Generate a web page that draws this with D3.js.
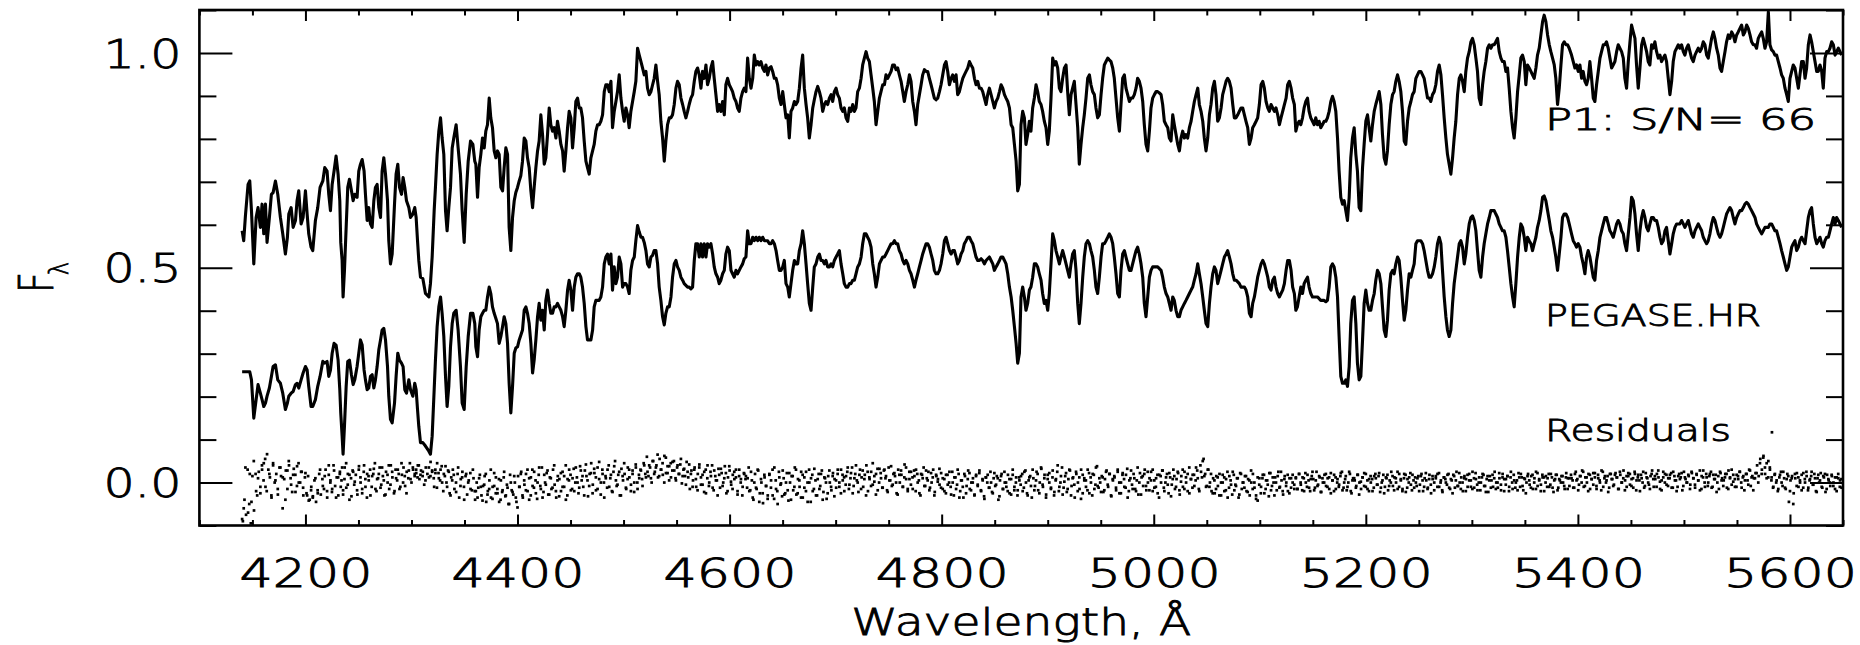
<!DOCTYPE html>
<html>
<head>
<meta charset="utf-8">
<script src="https://cdnjs.cloudflare.com/ajax/libs/d3/7.8.5/d3.min.js"></script>
<style>
  body { margin: 0; background: #fff; }
  svg text { font-family: "DejaVu Sans", sans-serif; font-weight: 200; fill: #000; stroke: #000; stroke-width: 0.9px; }
</style>
</head>
<body>
<div id="chart"></div>
<script>
// wavelength grid (Angstrom)
var wavelength = [
  4140.3,4141.8,4143.4,4145.9,4147.5,4149.1,4151.3,4153.5,4155.3,4157.5,
  4159.1,4160.7,4162.3,4163.8,4166.0,4167.9,4169.5,4171.7,4173.9,4176.4,
  4178.6,4181.1,4183.0,4184.3,4186.5,4188.4,4190.6,4192.1,4193.7,4195.9,
  4197.8,4200.0,4201.6,4203.1,4205.3,4206.9,4209.4,4211.6,4213.8,4216.4,
  4218.2,4220.4,4222.0,4223.6,4225.2,4227.0,4228.9,4230.8,4232.4,4233.3,
  4234.6,4235.5,4236.8,4238.4,4239.9,4241.5,4243.4,4245.0,4246.5,4248.7,
  4250.3,4251.9,4253.5,4255.3,4256.6,4258.2,4259.7,4261.3,4262.9,4264.5,
  4266.0,4267.6,4269.2,4270.8,4272.3,4273.9,4275.5,4277.4,4278.6,4280.2,
  4281.8,4284.0,4285.5,4287.1,4288.7,4290.6,4292.1,4293.7,4295.3,4297.5,
  4299.1,4301.3,4303.1,4304.4,4305.7,4306.9,4308.5,4310.7,4313.2,4316.4,
  4317.9,4319.5,4321.4,4322.6,4324.2,4325.8,4327.4,4328.9,4330.5,4332.1,
  4333.6,4335.2,4336.8,4338.4,4339.9,4342.1,4344.0,4346.2,4347.8,4349.7,
  4351.6,4353.5,4355.7,4357.9,4359.7,
  4360.7,4362.3,4363.8,4365.4,4367.0,4368.6,4370.1,4371.7,4373.3,4374.8,
  4376.4,4378.0,4379.6,4381.1,4382.7,4384.3,4385.9,4387.4,4389.0,4390.6,
  4392.1,4393.7,4395.3,4396.9,4398.4,4400.0,4401.6,4403.1,4404.7,4406.3,
  4407.9,4409.4,4411.0,4412.6,4414.2,4415.7,4417.3,4418.9,4420.4,4422.0,
  4423.6,4425.2,4426.7,4428.3,4429.9,4431.4,4433.0,4434.6,4436.2,4437.7,
  4439.3,4440.9,4442.5,4444.0,4445.6,4447.2,4448.7,4450.3,4451.9,4453.5,
  4455.0,4456.6,4458.2,4459.7,4461.3,4462.9,4464.5,4466.0,4467.6,4469.2,
  4470.8,4472.3,4473.9,4475.5,4477.0,4478.6,4480.2,4481.8,4483.3,4484.9,
  4486.5,4488.1,4489.6,4491.2,4492.8,4494.3,4495.9,4497.5,4499.1,4500.6,
  4502.2,4503.8,4505.3,4506.9,4508.5,4510.1,4511.6,4513.2,4514.8,4516.4,
  4517.9,4519.5,4521.1,4522.6,4524.2,4525.8,4527.4,4528.9,4530.5,4532.1,
  4533.6,4535.2,4536.8,4538.4,4539.9,4541.5,4543.1,4544.7,4546.2,4547.8,
  4549.4,4550.9,4552.5,4554.1,4555.7,4557.2,4558.8,4560.4,4561.9,4563.5,
  4565.1,4566.7,4568.2,4569.8,4571.4,4573.0,4574.5,4576.1,4577.7,4579.2,
  4580.8,4582.4,4584.0,4585.5,4587.1,4588.7,4590.2,4591.8,4593.4,4595.0,
  4596.5,4598.1,4599.7,4601.3,4602.8,4604.4,4606.0,4607.5,4609.1,4610.7,
  4612.3,4613.8,4615.4,
  4617.0,4618.6,4620.2,4621.8,4623.3,4624.9,4626.5,4628.0,4629.6,4631.2,
  4632.8,4634.3,4635.9,4637.5,4639.1,4640.6,4642.2,4643.8,4645.3,4646.9,
  4648.5,4650.1,4651.6,4653.2,4654.8,4656.3,4657.9,4659.5,4661.1,4662.6,
  4664.2,4665.8,4667.4,4668.9,4670.5,4672.1,4673.6,4675.2,4676.8,4678.4,
  4679.9,4681.5,4683.1,4684.7,4686.2,4687.8,4689.4,4690.9,4692.5,4694.1,
  4695.7,4697.2,4698.8,4700.4,4701.9,4703.5,4705.1,4706.7,4708.2,4709.8,
  4711.4,4713.0,4714.5,4716.1,4717.7,4719.2,4720.8,4722.4,4724.0,4725.5,
  4727.1,4728.7,4730.2,4731.8,4733.4,4735.0,4736.5,4738.1,4739.7,4741.3,
  4742.8,4744.4,4746.0,4747.5,4749.1,4750.7,4752.3,4753.8,4755.4,4757.0,
  4758.5,4760.1,4761.7,4763.3,4764.8,4766.4,4768.0,4769.6,4771.1,4772.7,
  4774.3,4775.8,4777.4,4779.0,4780.6,4782.1,4783.7,4785.3,4786.8,4788.4,
  4790.0,4791.6,4793.1,4794.7,4796.3,4797.9,4799.4,4801.0,4802.6,4804.1,
  4805.7,4807.3,4808.9,4810.4,4812.0,4813.6,4815.1,4816.7,4818.3,4819.9,
  4821.4,4823.0,4824.6,4826.2,4827.7,4829.3,4830.9,4832.4,4834.0,4835.6,
  4837.2,4838.7,4840.3,4841.9,4843.4,4845.0,4846.6,4848.2,4849.7,4851.3,
  4852.9,4854.5,4856.0,4857.6,4859.2,4860.7,4862.3,4863.9,4865.5,4867.0,
  4868.6,4870.2,4871.7,4873.3,
  4874.8,4876.4,4878.0,4879.5,4881.1,4882.7,4884.2,4885.8,4887.4,4889.0,
  4890.5,4892.1,4893.7,4895.2,4896.8,4898.4,4900.0,4901.5,4903.1,4904.7,
  4906.3,4907.8,4909.4,4911.0,4912.5,4914.1,4915.7,4917.3,4918.8,4920.4,
  4922.0,4923.5,4925.1,4926.7,4928.3,4929.8,4931.4,4933.0,4934.5,4936.1,
  4937.7,4939.3,4940.8,4942.4,4944.0,4945.5,4947.1,4948.7,4950.3,4951.8,
  4953.4,4955.0,4956.6,4958.1,4959.7,4961.3,4962.8,4964.4,4966.0,4967.6,
  4969.1,4970.7,4972.3,4973.8,4975.4,4977.0,4978.6,4980.1,4981.7,4983.3,
  4984.8,4986.4,4988.0,4989.6,4991.1,4992.7,4994.3,4995.9,4997.4,4999.0,
  5000.6,5002.2,5003.7,5005.3,5006.9,5008.4,5010.0,5011.6,5013.2,5014.7,
  5016.3,5017.9,5019.4,5021.0,5022.6,5024.2,5025.7,5027.3,5028.9,5030.4,
  5032.0,5033.6,5035.2,5036.7,5038.3,5039.9,5041.5,5043.0,5044.6,5046.2,
  5047.7,5049.3,5050.9,5052.5,5054.0,5055.6,5057.2,5058.7,5060.3,5061.9,
  5063.5,5065.0,5066.6,5068.2,5069.7,5071.3,5072.9,5074.5,5076.0,5077.6,
  5079.2,5080.7,5082.3,5083.9,5085.5,5087.0,5088.6,5090.2,5091.8,5093.3,
  5094.9,5096.5,5098.0,5099.6,5101.2,5102.8,5104.3,5105.9,5107.5,5109.0,
  5110.6,5112.2,5113.8,5115.3,5116.9,5118.5,5120.0,5121.6,5123.2,5124.8,
  5126.3,5127.9,5129.5,5131.0,5132.6,
  5134.0,5135.5,5137.1,5138.7,5140.3,5141.8,5143.4,5145.0,5146.5,5148.1,
  5149.7,5151.3,5152.8,5154.4,5156.0,5157.5,5159.1,5160.7,5162.3,5163.8,
  5165.4,5167.0,5168.6,5170.1,5171.7,5173.3,5174.8,5176.4,5178.0,5179.6,
  5181.1,5182.7,5184.3,5185.8,5187.4,5189.0,5190.6,5192.1,5193.7,5195.3,
  5196.9,5198.4,5200.0,5201.6,5203.1,5204.7,5206.3,5207.9,5209.4,5211.0,
  5212.6,5214.2,5215.7,5217.3,5218.9,5220.4,5222.0,5223.6,5225.2,5226.7,
  5228.3,5229.9,5231.4,5233.0,5234.6,5236.2,5237.7,5239.3,5240.9,5242.5,
  5244.0,5245.6,5247.2,5248.7,5250.3,5251.9,5253.5,5255.0,5256.6,5258.2,
  5259.7,5261.3,5262.9,5264.5,5266.0,5267.6,5269.2,5270.8,5272.3,5273.9,
  5275.5,5277.0,5278.6,5280.2,5281.8,5283.3,5284.9,5286.5,5288.1,5289.6,
  5291.2,5292.8,5294.3,5295.9,5297.5,5299.1,5300.6,5302.2,5303.8,5305.3,
  5306.9,5308.5,5310.1,5311.6,5313.2,5314.8,5316.4,5317.9,5319.5,5321.1,
  5322.6,5324.2,5325.8,5327.4,5328.9,5330.5,5332.1,5333.6,5335.2,5336.8,
  5338.4,5339.9,5341.5,5343.1,5344.7,5346.2,5347.8,5349.4,5350.9,5352.5,
  5354.1,5355.7,5357.2,5358.8,5360.4,5361.9,5363.5,5365.1,5366.7,5368.2,
  5369.8,5371.4,5373.0,5374.5,5376.1,5377.7,5379.2,5380.8,5382.4,5384.0,
  5385.5,5387.1,5388.7,5390.3,5391.8,
  5394.0,5395.6,5397.2,5398.7,5400.3,5401.9,5403.5,5405.0,5406.6,5408.2,
  5409.7,5411.3,5412.9,5414.5,5416.0,5417.6,5419.2,5420.8,5422.3,5423.9,
  5425.5,5427.0,5428.6,5430.2,5431.8,5433.3,5434.9,5436.5,5438.0,5439.6,
  5441.2,5442.8,5444.3,5445.9,5447.5,5449.1,5450.6,5452.2,5453.8,5455.3,
  5456.9,5458.5,5460.1,5461.6,5463.2,5464.8,5466.3,5467.9,5469.5,5471.1,
  5472.6,5474.2,5475.8,5477.4,5478.9,5480.5,5482.1,5483.6,5485.2,5486.8,
  5488.4,5489.9,5491.5,5493.1,5494.6,5496.2,5497.8,5499.4,5500.9,5502.5,
  5504.1,5505.7,5507.2,5508.8,5510.4,5511.9,5513.5,5515.1,5516.7,5518.2,
  5519.8,5521.4,5522.9,5524.5,5526.1,5527.7,5529.2,5530.8,5532.4,5534.0,
  5535.5,5537.1,5538.7,5540.2,5541.8,5543.4,5545.0,5546.5,5548.1,5549.7,
  5551.2,5552.8,5554.4,5556.0,5557.5,5559.1,5560.7,5562.3,5563.8,5565.4,
  5567.0,5568.5,5570.1,5571.7,5573.3,5574.8,5576.4,5578.0,5579.6,5581.1,
  5582.7,5584.3,5585.8,5587.4,5589.0,5590.6,5592.1,5593.7,5595.3,5596.9,
  5598.4,5600.0,5601.6,5603.1,5604.7,5606.3,5607.9,5609.4,5611.0,5612.6,
  5614.2,5615.7,5617.3,5618.9,5620.4,5622.0,5623.6,5625.2,5626.7,5628.3,
  5629.9,5631.4,5633.0,5634.6,5636.2,5637.7,5639.3,5640.9,5642.5,5644.0,
  5645.6,5647.2,5648.7
];

// observed spectrum P1 (upper curve)
var fluxP1 = [
  0.586,0.563,0.621,0.694,0.702,0.633,0.509,0.617,0.640,0.594,
  0.648,0.579,0.648,0.559,0.617,0.671,0.675,0.702,0.671,0.617,
  0.579,0.532,0.571,0.625,0.640,0.594,0.610,0.656,0.679,0.602,
  0.617,0.679,0.625,0.579,0.548,0.540,0.610,0.640,0.687,0.702,
  0.733,0.725,0.671,0.633,0.694,0.725,0.760,0.718,0.656,0.559,
  0.517,0.432,0.494,0.594,0.687,0.706,0.679,0.656,0.671,0.664,
  0.725,0.741,0.752,0.725,0.671,0.610,0.640,0.602,0.594,0.656,
  0.687,0.694,0.640,0.617,0.725,0.756,0.718,0.656,0.563,0.509,
  0.532,0.648,0.718,0.741,0.687,0.671,0.710,0.687,0.656,0.640,
  0.617,0.625,0.640,0.617,0.563,0.517,0.478,0.475,0.440,0.432,
  0.463,0.525,0.633,0.687,0.764,0.818,0.849,0.802,0.764,0.633,
  0.586,0.640,0.687,0.779,0.802,0.833,0.779,0.718,0.633,0.559,
  0.671,0.748,0.795,0.787,0.748,
  0.741,0.664,0.733,0.764,0.802,0.779,0.818,0.833,0.895,0.849,
  0.826,0.772,0.756,0.772,0.764,0.687,0.679,0.733,0.779,0.764,
  0.594,0.540,0.617,0.656,0.675,0.687,0.702,0.714,0.748,0.802,
  0.795,0.756,0.733,0.679,0.640,0.687,0.733,0.772,0.795,0.856,
  0.810,0.741,0.756,0.810,0.872,0.833,0.818,0.826,0.802,0.841,
  0.818,0.787,0.772,0.725,0.772,0.826,0.864,0.849,0.779,0.826,
  0.887,0.895,0.872,0.872,0.849,0.795,0.748,0.733,0.718,0.756,
  0.772,0.787,0.818,0.833,0.833,0.841,0.856,0.910,0.926,0.926,
  0.910,0.934,0.826,0.864,0.887,0.910,0.949,0.895,0.864,0.841,
  0.872,0.856,0.826,0.864,0.887,0.910,0.934,1.011,0.995,0.980,
  0.965,0.949,0.957,0.918,0.903,0.910,0.926,0.941,0.972,0.934,
  0.903,0.841,0.802,0.748,0.795,0.833,0.849,0.849,0.856,0.880,
  0.918,0.934,0.926,0.895,0.880,0.864,0.849,0.864,0.880,0.895,
  0.903,0.934,0.957,0.965,0.949,0.918,0.957,0.941,0.972,0.926,
  0.941,0.965,0.980,0.941,0.903,0.864,0.880,0.864,0.887,0.856,
  0.926,0.941,0.926,0.918,0.910,0.895,0.887,0.872,0.864,0.895,
  0.910,0.918,0.910,
  0.988,0.941,0.918,0.941,0.995,0.972,0.980,0.972,0.980,0.965,
  0.957,0.972,0.949,0.965,0.968,0.957,0.941,0.941,0.926,0.895,
  0.880,0.910,0.880,0.849,0.856,0.802,0.864,0.872,0.887,0.880,
  0.887,0.918,0.965,0.995,0.918,0.880,0.849,0.802,0.833,0.872,
  0.891,0.910,0.922,0.910,0.895,0.864,0.880,0.887,0.880,0.895,
  0.903,0.887,0.910,0.918,0.903,0.895,0.872,0.864,0.872,0.849,
  0.841,0.872,0.864,0.880,0.864,0.872,0.910,0.918,0.941,0.972,
  0.988,1.003,0.988,0.980,0.949,0.918,0.887,0.833,0.864,0.895,
  0.910,0.926,0.926,0.949,0.941,0.949,0.957,0.972,0.972,0.961,
  0.965,0.949,0.934,0.910,0.887,0.910,0.926,0.949,0.934,0.887,
  0.864,0.833,0.880,0.903,0.926,0.949,0.961,0.957,0.957,0.941,
  0.926,0.910,0.895,0.891,0.895,0.910,0.926,0.949,0.972,0.980,
  0.957,0.926,0.941,0.949,0.934,0.949,0.903,0.910,0.926,0.941,
  0.949,0.957,0.965,0.980,0.972,0.965,0.941,0.926,0.934,0.918,
  0.918,0.910,0.895,0.880,0.903,0.918,0.903,0.887,0.872,0.887,
  0.895,0.910,0.926,0.918,0.903,0.895,0.887,0.872,0.833,0.826,
  0.787,0.748,0.679,0.694,
  0.833,0.864,0.849,0.787,0.810,0.841,0.818,0.872,0.895,0.926,
  0.910,0.887,0.880,0.864,0.841,0.826,0.787,0.818,0.895,0.988,
  0.972,0.980,0.965,0.918,0.910,0.941,0.965,0.972,0.910,0.856,
  0.903,0.918,0.934,0.880,0.826,0.741,0.787,0.826,0.856,0.895,
  0.941,0.949,0.926,0.910,0.903,0.872,0.849,0.856,0.903,0.941,
  0.972,0.980,0.988,0.984,0.980,0.965,0.941,0.895,0.849,0.818,
  0.880,0.941,0.949,0.918,0.903,0.887,0.895,0.895,0.903,0.918,
  0.941,0.934,0.918,0.887,0.833,0.787,0.772,0.818,0.872,0.895,
  0.903,0.910,0.910,0.907,0.903,0.880,0.841,0.833,0.826,0.802,
  0.795,0.856,0.833,0.810,0.787,0.772,0.802,0.818,0.802,0.810,
  0.802,0.826,0.841,0.864,0.887,0.903,0.918,0.880,0.864,0.841,
  0.802,0.772,0.802,0.856,0.880,0.918,0.934,0.903,0.841,0.849,
  0.872,0.903,0.918,0.934,0.941,0.934,0.918,0.880,0.849,0.849,
  0.856,0.864,0.872,0.872,0.856,0.841,0.826,0.787,0.802,0.826,
  0.833,0.841,0.849,0.880,0.926,0.934,0.918,0.887,0.872,0.864,
  0.880,0.872,0.864,0.872,0.856,0.833,0.849,0.864,0.880,0.895,
  0.926,0.934,0.918,0.895,0.880,
  0.818,0.833,0.841,0.833,0.849,0.872,0.887,0.895,0.864,0.849,
  0.841,0.833,0.849,0.833,0.841,0.826,0.833,0.841,0.841,0.849,
  0.864,0.887,0.899,0.887,0.864,0.802,0.725,0.664,0.648,0.656,
  0.633,0.610,0.664,0.756,0.802,0.826,0.764,0.725,0.640,0.633,
  0.733,0.787,0.841,0.856,0.826,0.795,0.833,0.864,0.880,0.895,
  0.910,0.880,0.810,0.756,0.741,0.772,0.833,0.880,0.903,0.910,
  0.934,0.949,0.934,0.910,0.864,0.795,0.787,0.841,0.872,0.887,
  0.903,0.910,0.941,0.949,0.957,0.957,0.949,0.941,0.918,0.895,
  0.895,0.887,0.903,0.910,0.926,0.957,0.972,0.949,0.903,0.849,
  0.802,0.764,0.741,0.718,0.756,0.802,0.841,0.903,0.941,0.949,
  0.934,0.910,0.957,0.988,1.003,1.026,1.034,1.019,0.988,0.957,
  0.895,0.880,0.926,0.957,0.980,1.011,1.019,1.011,1.019,1.019,
  1.026,1.034,1.003,0.988,0.980,0.980,0.957,0.965,0.918,0.864,
  0.826,0.802,0.849,0.910,0.949,0.988,0.995,0.980,0.926,0.972,
  0.965,0.957,0.949,0.941,0.965,0.995,1.011,1.042,1.073,1.088,
  1.073,1.042,1.019,1.003,0.988,0.972,0.941,0.880,0.918,0.972,
  1.019,1.026,1.019,1.019,1.011,
  0.995,0.980,0.965,0.972,0.957,0.972,0.941,0.957,0.934,0.926,
  0.941,0.980,0.941,0.895,0.887,0.926,0.957,0.988,1.003,1.019,
  1.019,1.026,1.011,0.988,0.965,0.972,0.980,1.003,1.019,1.011,
  1.003,0.988,0.941,0.918,0.980,1.026,1.065,1.049,1.034,0.972,
  0.918,0.965,1.019,1.034,1.019,1.003,0.980,0.972,1.019,1.011,
  1.026,1.003,0.988,0.995,0.980,0.988,0.995,0.980,0.941,0.903,
  0.934,0.980,1.003,1.011,1.019,1.011,1.019,1.003,0.995,1.011,
  1.019,1.003,0.988,0.980,0.995,1.003,1.011,1.003,1.011,1.026,
  1.019,0.995,0.988,1.011,1.034,1.049,1.034,1.011,0.995,0.965,
  0.957,0.980,1.003,1.026,1.042,1.034,1.049,1.042,1.026,1.042,
  1.049,1.057,1.065,1.042,1.049,1.065,1.057,1.042,1.026,1.019,
  1.019,1.011,1.034,1.042,1.049,1.034,1.011,1.026,1.096,1.019,
  1.007,1.003,0.995,0.995,0.980,0.965,0.949,0.941,0.918,0.903,
  0.887,0.941,0.957,0.972,0.965,0.941,0.918,0.949,0.980,0.980,
  0.941,0.965,1.019,1.042,1.026,1.003,0.980,0.957,0.957,0.972,
  0.957,0.918,0.988,1.003,1.003,1.011,1.026,1.019,0.995,1.003,
  1.011,1.003,0.995
];

// PEGASE.HR model spectrum (lower curve)
var fluxPegase = [
  0.258,0.258,0.258,0.258,0.258,0.239,0.150,0.193,0.228,0.208,
  0.193,0.177,0.185,0.201,0.220,0.247,0.270,0.274,0.239,0.231,
  0.208,0.170,0.185,0.201,0.208,0.212,0.228,0.231,0.220,0.239,
  0.255,0.270,0.262,0.224,0.177,0.177,0.193,0.224,0.247,0.282,
  0.278,0.282,0.247,0.262,0.301,0.324,0.320,0.285,0.216,0.162,
  0.108,0.066,0.131,0.224,0.282,0.285,0.251,0.228,0.239,0.270,
  0.301,0.332,0.320,0.262,0.239,0.216,0.220,0.247,0.251,0.220,
  0.239,0.270,0.309,0.332,0.355,0.359,0.332,0.270,0.201,0.147,
  0.139,0.185,0.247,0.301,0.285,0.278,0.270,0.216,0.208,0.239,
  0.216,0.201,0.231,0.216,0.170,0.131,0.093,0.093,0.085,0.073,
  0.066,0.108,0.216,0.285,0.363,0.409,0.432,0.394,0.340,0.247,
  0.177,0.224,0.316,0.370,0.394,0.401,0.355,0.270,0.185,0.170,
  0.270,0.340,0.394,0.394,0.370,
  0.316,0.293,0.355,0.386,0.394,0.401,0.401,0.432,0.455,0.440,
  0.409,0.394,0.382,0.370,0.324,0.340,0.363,0.386,0.370,0.324,
  0.231,0.162,0.224,0.301,0.313,0.316,0.332,0.343,0.355,0.401,
  0.409,0.394,0.370,0.324,0.255,0.285,0.332,0.386,0.417,0.378,
  0.401,0.355,0.424,0.448,0.417,0.394,0.394,0.409,0.409,0.417,
  0.409,0.401,0.386,0.363,0.401,0.448,0.471,0.448,0.401,0.455,
  0.478,0.486,0.486,0.478,0.455,0.417,0.363,0.332,0.332,0.332,
  0.355,0.409,0.424,0.424,0.424,0.432,0.455,0.509,0.525,0.532,
  0.509,0.532,0.448,0.502,0.463,0.478,0.525,0.509,0.455,0.463,
  0.463,0.455,0.440,0.494,0.517,0.525,0.563,0.598,0.583,0.571,
  0.571,0.559,0.540,0.509,0.502,0.525,0.529,0.540,0.540,0.509,
  0.455,0.424,0.386,0.367,0.394,0.409,0.409,0.432,0.478,0.509,
  0.517,0.502,0.494,0.478,0.471,0.463,0.459,0.455,0.455,0.451,
  0.455,0.517,0.556,0.556,0.525,0.556,0.525,0.556,0.525,0.556,
  0.548,0.556,0.532,0.502,0.486,0.478,0.463,0.471,0.486,0.494,
  0.532,0.548,0.540,0.494,0.486,0.478,0.494,0.486,0.494,0.502,
  0.509,0.521,0.525,
  0.586,0.556,0.556,0.571,0.563,0.571,0.563,0.571,0.563,0.571,
  0.563,0.563,0.563,0.556,0.556,0.563,0.556,0.540,0.517,0.494,
  0.494,0.502,0.517,0.463,0.455,0.432,0.463,0.494,0.517,0.509,
  0.509,0.540,0.556,0.586,0.556,0.509,0.463,0.417,0.401,0.455,
  0.502,0.509,0.525,0.532,0.517,0.517,0.509,0.517,0.502,0.502,
  0.509,0.502,0.517,0.525,0.532,0.540,0.509,0.486,0.463,0.455,
  0.455,0.463,0.463,0.471,0.471,0.486,0.502,0.509,0.525,0.556,
  0.579,0.579,0.571,0.563,0.548,0.509,0.486,0.455,0.478,0.509,
  0.517,0.525,0.525,0.532,0.540,0.548,0.556,0.556,0.563,0.556,
  0.556,0.540,0.532,0.517,0.509,0.517,0.509,0.494,0.486,0.471,
  0.455,0.471,0.486,0.502,0.517,0.532,0.544,0.556,0.556,0.548,
  0.532,0.517,0.494,0.486,0.486,0.494,0.509,0.532,0.563,0.571,
  0.556,0.540,0.532,0.540,0.540,0.525,0.509,0.517,0.532,0.540,
  0.556,0.563,0.571,0.571,0.563,0.556,0.540,0.525,0.517,0.517,
  0.521,0.517,0.509,0.517,0.521,0.525,0.517,0.509,0.494,0.502,
  0.509,0.517,0.525,0.525,0.517,0.509,0.486,0.455,0.432,0.401,
  0.363,0.324,0.278,0.301,
  0.432,0.455,0.432,0.401,0.417,0.448,0.455,0.478,0.509,0.509,
  0.502,0.486,0.471,0.440,0.417,0.424,0.401,0.440,0.509,0.579,
  0.563,0.540,0.525,0.509,0.525,0.540,0.525,0.509,0.494,0.478,
  0.509,0.532,0.540,0.494,0.417,0.370,0.417,0.478,0.525,0.556,
  0.563,0.556,0.540,0.525,0.494,0.455,0.440,0.478,0.525,0.556,
  0.556,0.563,0.571,0.579,0.571,0.556,0.525,0.486,0.440,0.432,
  0.494,0.532,0.540,0.525,0.509,0.494,0.494,0.509,0.525,0.540,
  0.548,0.532,0.509,0.478,0.417,0.386,0.432,0.478,0.494,0.502,
  0.502,0.502,0.502,0.498,0.494,0.478,0.455,0.440,0.432,0.417,
  0.401,0.432,0.424,0.401,0.386,0.386,0.401,0.409,0.417,0.424,
  0.432,0.440,0.448,0.455,0.471,0.486,0.509,0.486,0.463,0.432,
  0.401,0.370,0.363,0.417,0.455,0.486,0.502,0.494,0.463,0.478,
  0.494,0.509,0.525,0.532,0.540,0.525,0.509,0.486,0.471,0.471,
  0.467,0.463,0.455,0.455,0.455,0.448,0.432,0.394,0.386,0.417,
  0.432,0.455,0.478,0.494,0.509,0.517,0.509,0.494,0.478,0.455,
  0.448,0.471,0.478,0.455,0.440,0.432,0.440,0.448,0.463,0.494,
  0.517,0.517,0.494,0.455,0.440,
  0.401,0.409,0.432,0.455,0.440,0.463,0.471,0.478,0.455,0.440,
  0.432,0.432,0.432,0.432,0.428,0.424,0.424,0.424,0.421,0.424,
  0.455,0.502,0.509,0.502,0.478,0.432,0.340,0.247,0.231,0.231,
  0.239,0.224,0.270,0.370,0.424,0.432,0.370,0.278,0.239,0.247,
  0.332,0.417,0.448,0.417,0.401,0.401,0.424,0.440,0.471,0.494,
  0.486,0.463,0.409,0.355,0.340,0.378,0.448,0.486,0.494,0.486,
  0.509,0.525,0.517,0.478,0.424,0.378,0.401,0.448,0.486,0.478,
  0.494,0.509,0.556,0.563,0.563,0.563,0.556,0.540,0.517,0.494,
  0.478,0.478,0.486,0.502,0.525,0.556,0.571,0.556,0.494,0.432,
  0.386,0.355,0.340,0.355,0.417,0.463,0.494,0.525,0.556,0.563,
  0.548,0.509,0.532,0.571,0.602,0.617,0.621,0.610,0.586,0.540,
  0.494,0.478,0.525,0.556,0.579,0.602,0.617,0.633,0.633,0.633,
  0.625,0.617,0.602,0.594,0.586,0.586,0.571,0.540,0.502,0.463,
  0.432,0.409,0.463,0.525,0.571,0.602,0.594,0.571,0.540,0.571,
  0.563,0.556,0.540,0.556,0.571,0.594,0.610,0.633,0.664,0.667,
  0.656,0.633,0.610,0.586,0.571,0.548,0.525,0.494,0.532,0.571,
  0.617,0.625,0.625,0.617,0.602,
  0.579,0.563,0.556,0.548,0.556,0.548,0.525,0.509,0.486,0.525,
  0.540,0.525,0.502,0.478,0.471,0.517,0.540,0.571,0.586,0.602,
  0.617,0.617,0.602,0.586,0.579,0.571,0.586,0.602,0.610,0.602,
  0.586,0.579,0.556,0.540,0.579,0.617,0.664,0.656,0.625,0.579,
  0.540,0.586,0.617,0.633,0.617,0.594,0.586,0.602,0.617,0.617,
  0.610,0.610,0.594,0.571,0.556,0.563,0.586,0.594,0.563,0.532,
  0.556,0.579,0.594,0.602,0.602,0.602,0.610,0.602,0.594,0.602,
  0.610,0.594,0.579,0.571,0.586,0.594,0.602,0.594,0.586,0.571,
  0.563,0.556,0.563,0.579,0.602,0.617,0.610,0.594,0.579,0.571,
  0.579,0.594,0.610,0.625,0.633,0.640,0.633,0.617,0.602,0.617,
  0.625,0.633,0.633,0.640,0.648,0.652,0.648,0.640,0.633,0.625,
  0.617,0.602,0.594,0.586,0.579,0.586,0.594,0.594,0.594,0.602,
  0.602,0.594,0.586,0.586,0.571,0.556,0.540,0.525,0.509,0.494,
  0.502,0.525,0.548,0.556,0.563,0.540,0.548,0.563,0.571,0.563,
  0.556,0.586,0.617,0.633,0.640,0.602,0.571,0.556,0.563,0.571,
  0.556,0.548,0.563,0.571,0.571,0.586,0.602,0.617,0.602,0.617,
  0.610,0.602,0.594
];

// residuals on the same grid as the spectra
var residuals = [
  -0.085,-0.06,0.035,-0.07,0.02,-0.045,0.05,-0.02,
  0.01,-0.025,0.03,0.045,-0.01,0.066,0.02,-0.03,0.04,0.005,-0.015,0.035,0.012,-0.04,0.028,0.05,-0.005,0.018,-0.022,0.038,0.0,0.025,
  -0.012,0.022,-0.03,-0.042,-0.018,-0.035,0.01,-0.025,0.03,-0.008,0.015,-0.02,0.04,0.005,-0.015,0.028,-0.035,0.012,0.02,-0.01,
  0.035,-0.028,0.008,0.045,-0.005,0.018,-0.032,0.025,0.002,-0.018,0.03,0.012,-0.025,0.04,-0.01,0.02,0.005,-0.03,0.015,0.032,-0.015,0.008,
  0.02,-0.012,0.035,0.005,-0.028,0.018,0.04,-0.005,0.025,-0.02,0.01,0.03,-0.015,0.045,0.0,0.015,-0.025,0.028,0.008,0.035,
  0.02,0.03,0.012,0.04,0.018,0.025,0.005,0.035,0.015,0.028,-0.01,0.022,0.045,0.01,0.03,0.0,0.02,0.038,
  -0.01,0.025,-0.03,0.005,0.018,-0.022,0.035,-0.008,0.012,-0.04,0.02,0.0,-0.015,0.03,-0.02,
  -0.02,-0.035,0.01,-0.01,-0.042,-0.005,0.02,-0.028,-0.015,0.03,-0.038,-0.008,0.012,-0.025,-0.045,0.005,-0.018,0.025,-0.03,-0.012,-0.05,0.0,-0.022,0.015,-0.035,
  -0.058,-0.01,0.02,-0.03,0.005,-0.018,0.03,-0.04,0.012,-0.008,0.025,-0.025,0.0,0.035,-0.015,-0.035,0.018,-0.005,0.028,-0.028,0.01,-0.012,0.04,-0.02,0.005,-0.032,0.022,-0.01,0.015,-0.04,0.008,0.03,-0.018,
  0.01,-0.02,0.035,0.0,-0.012,0.028,0.015,-0.03,0.042,0.005,-0.008,0.022,-0.025,0.032,0.012,-0.015,0.048,0.0,0.02,-0.035,0.01,0.03,-0.01,0.018,-0.022,
  0.038,0.005,-0.005,0.025,-0.03,0.015,0.045,-0.012,0.008,0.03,-0.02,0.02,0.0,0.035,-0.015,0.01,0.028,-0.008,0.04,0.012,
  0.025,0.04,0.01,0.05,0.02,0.035,0.065,0.015,0.03,0.045,0.0,0.058,0.022,0.038,0.012,0.048,0.028,0.005,0.04,0.02,0.055,0.015,0.032,-0.005,0.025,0.042,
  0.02,-0.01,0.03,0.008,-0.018,0.035,0.012,-0.005,0.025,-0.025,0.04,0.0,0.015,-0.012,0.028,0.005,-0.03,0.018,0.032,-0.008,0.01,0.022,-0.02,0.038,0.002,-0.015,0.025,0.012,-0.028,0.03,0.008,-0.01,0.02,0.015,
  0.01,-0.02,0.025,-0.035,0.0,-0.012,0.03,-0.045,0.008,-0.025,0.018,-0.008,-0.038,0.02,0.005,-0.03,0.035,-0.015,-0.05,0.012,-0.002,0.028,-0.028,0.0,-0.018,0.022,-0.04,
  0.015,-0.01,0.03,-0.025,0.005,-0.035,0.018,-0.012,0.025,-0.045,0.0,0.01,-0.02,0.032,-0.03,0.008,-0.015,0.02,-0.04,0.012,0.0,-0.025,0.028,-0.01,0.015,-0.032,0.005,
  0.02,-0.01,0.03,0.005,-0.02,0.015,0.035,-0.005,0.022,-0.025,0.01,0.04,0.0,0.018,-0.015,0.028,0.008,-0.03,0.025,0.012,-0.008,0.045,0.002,0.02,-0.018,0.032,0.01,-0.012,0.03,0.015,-0.022,0.005,
  0.038,-0.005,0.022,0.0,-0.028,0.018,0.028,-0.01,0.012,0.035,-0.02,0.008,0.025,-0.015,0.015,0.03,0.0,-0.025,0.02,0.01,-0.008,0.028,0.005,-0.018,0.022,0.012,-0.03,0.018,0.002,0.032,-0.012,
  0.01,-0.02,0.018,-0.005,0.025,-0.028,0.0,0.012,-0.015,0.03,-0.035,0.005,-0.01,0.02,-0.025,0.008,0.022,-0.018,0.0,-0.03,0.015,-0.008,0.028,-0.02,
  0.005,-0.038,0.012,0.018,-0.012,0.0,-0.025,0.022,-0.005,0.01,-0.032,0.015,-0.015,0.025,0.0,-0.02,0.008,-0.028,0.018,-0.01,0.012,-0.018,0.005,
  0.015,-0.02,0.025,0.0,-0.03,0.012,-0.008,0.03,-0.018,0.005,0.02,-0.025,0.035,-0.005,0.01,-0.035,0.018,0.0,-0.012,0.028,-0.022,0.008,0.04,-0.01,0.015,
  -0.028,0.002,0.022,-0.015,0.03,-0.03,0.01,-0.005,0.025,-0.02,0.012,-0.038,0.018,0.005,-0.01,0.03,-0.025,0.0,0.02,-0.015,0.035,-0.008,0.01,-0.022,
  0.012,-0.018,0.025,-0.005,0.02,-0.03,0.008,0.015,-0.012,0.03,-0.025,0.0,0.022,-0.01,0.018,-0.035,0.005,0.028,-0.015,0.01,-0.02,0.035,0.0,-0.028,0.015,0.02,-0.008,0.025,-0.018,0.005,0.03,-0.012,
  0.01,-0.025,0.018,0.0,0.028,-0.02,0.012,-0.005,0.022,-0.032,0.008,0.015,-0.01,0.025,-0.018,0.002,0.03,-0.015,0.012,0.02,-0.025,0.008,0.018,-0.008,0.035,0.01,-0.02,0.025,0.05,0.015,-0.01,0.03,
  -0.01,0.02,-0.025,0.005,-0.015,0.012,-0.03,0.0,0.018,-0.02,0.008,-0.035,0.015,-0.005,0.025,-0.018,-0.008,0.01,-0.028,0.02,0.0,-0.012,0.015,-0.022,0.005,0.028,
  -0.015,0.0,-0.03,-0.042,0.01,-0.01,0.018,-0.025,0.005,-0.005,0.022,-0.018,0.012,-0.03,0.0,0.015,-0.012,0.025,-0.02,0.008,-0.008,0.018,-0.025,0.01,0.0,-0.015,
  0.01,-0.015,0.02,-0.005,0.012,-0.02,0.0,0.018,-0.012,0.008,0.025,-0.018,0.005,-0.008,0.015,-0.022,0.01,0.0,0.02,-0.01,0.012,-0.025,0.005,0.018,-0.015,0.008,-0.005,0.022,-0.018,0.0,
  0.015,-0.01,0.025,-0.02,0.005,0.01,-0.012,0.018,-0.028,0.002,0.012,-0.008,0.02,-0.015,0.008,0.0,-0.02,0.015,0.01,-0.005,0.022,-0.012,0.005,-0.025,0.012,0.018,-0.008,0.0,0.015,-0.018,
  0.01,0.025,-0.01,0.005,-0.015,0.02,-0.022,0.008,0.012,-0.005,0.018,-0.012,0.0,0.01,-0.02,0.015,0.005,-0.01,0.022,-0.015,0.008,
  -0.005,0.015,-0.018,0.01,0.02,-0.01,0.005,-0.022,0.012,0.0,0.018,-0.012,0.008,-0.025,0.015,0.005,-0.008,0.022,-0.015,0.0,0.01,-0.02,0.018,0.005,-0.01,0.025,-0.012,0.008,-0.018,0.012,
  0.0,0.02,-0.008,-0.022,0.015,0.005,-0.012,0.018,0.01,-0.015,0.0,0.022,-0.005,0.012,-0.02,0.008,0.015,-0.01,0.025,-0.015,0.005,0.0,-0.018,0.012,0.02,-0.008,0.01,-0.025,0.015,0.005,
  -0.012,0.018,0.0,-0.015,0.022,0.008,-0.005,0.012,-0.02,0.015,0.01,-0.01,0.02,-0.012,0.005,0.018,-0.018,0.008,0.0,0.015,-0.008,0.012,-0.015,0.01,
  0.01,-0.012,0.02,0.005,-0.018,0.015,0.0,0.025,-0.008,0.012,-0.02,0.018,0.008,-0.005,0.022,-0.015,0.01,0.0,0.028,-0.01,
  0.015,0.005,-0.022,0.02,0.008,-0.008,0.018,0.012,-0.015,0.025,0.0,0.01,-0.018,0.015,0.022,-0.005,0.008,-0.012,0.02,0.005,
  0.018,-0.02,0.01,0.025,-0.008,0.012,0.0,-0.015,0.02,0.008,0.015,-0.01,0.028,0.002,-0.018,0.012,0.02,-0.005,0.01,0.018,
  -0.012,0.025,0.005,-0.02,0.015,0.008,0.022,-0.008,0.012,0.0,0.018,-0.015,0.025,0.01,-0.005,0.02,0.005,-0.018,0.015,0.028,
  -0.01,0.012,0.0,0.02,-0.012,0.018,0.008,-0.022,0.015,0.025,0.005,-0.008,0.012,0.02,-0.015,0.01,0.03,0.002,-0.01,0.018,
  0.008,0.025,-0.012,0.015,0.005,0.02,-0.005,0.028,0.012,-0.018,0.01,0.022,0.0,
  0.045,0.02,0.058,0.035,0.01,0.05,0.03,
  0.012,-0.01,0.02,0.005,-0.015,0.018,0.0,0.025,-0.012,0.008,0.015,-0.02,0.01,-0.05,0.02,-0.008,0.012,0.005,-0.018,0.022,
  0.0,0.015,-0.012,0.008,0.025,-0.005,0.01,-0.022,0.018,0.005,-0.01,0.015,0.02,-0.015,0.008,0.0,0.018,-0.008,0.012,-0.02,0.01,0.005,-0.012
];

// extra residual points that fall between the grid points above
var residWave2 = [
  4141.0,4142.5,4144.0,4145.5,4147.0,4148.5,4150.0,4151.5,4153.0,4154.5,
  4156.0,4157.5,4159.0,4160.5,4162.0,4163.5,4165.0,4166.5,4168.0,4169.5,
  4171.0,4172.5,4174.0,4175.5,4177.0,4178.5,4180.0,4181.5,4183.0,4184.5,
  4186.0,4187.5,4189.0,4190.5,4192.0,4193.5,4195.0,4196.5,4198.0,4199.5,
  4201.0,4202.5,4204.0,4205.5,4207.0,4208.5,4210.0,4211.5,4213.0,4214.5,
  4216.0,4217.5,4219.0,4220.5,4222.0,4223.5,4225.0,4226.5,4228.0,4229.5,
  4231.0,4232.5,4234.0,4235.5,4237.0,4238.5,4240.0,4241.5,4243.0,4244.5,
  4246.0,4247.5,4249.0,4250.5,4252.0,4253.5,4255.0,4256.5,4258.0,4259.5,
  4261.0,4262.5,4264.0,4265.5,4267.0,4268.5,4270.0,4271.5,4273.0,4274.5,
  4276.0,4277.5,4279.0,4280.5,4282.0,4283.5,4285.0,4286.5,4288.0,4289.5,
  4291.0,4292.5,4294.0,4295.5,4297.0,4298.5,4300.0,4301.5,4303.0,4304.5,
  4306.0,4307.5,4309.0,4310.5,4312.0,4313.5,4315.0,4316.5,4318.0,4319.5,
  4321.0,4322.5,4324.0,4325.5,4327.0,4328.5,4330.0,4331.5,4333.0,4334.5,
  4336.0,4337.5,4339.0,4340.5,4342.0,4343.5,4345.0,4346.5,4348.0,4349.5,
  4351.0,4352.5,4354.0,4355.5,4357.0,4358.5,4360.0,4361.5,4363.0,4364.5,
  4366.0,4367.5,4369.0,4370.5,4372.0,4373.5,4375.0,4376.5,4378.0,4379.5,
  4381.0,4382.5,4384.0,4385.5,4387.0,4388.5,4390.0,4391.5,4393.0,4394.5,
  4396.0,4397.5,4399.0,4400.5,4402.0,4403.5,4405.0,4406.5,4408.0,4409.5,
  4411.0,4412.5,4414.0,4415.5,4417.0,4418.5,4420.0,4421.5,4423.0,4424.5,
  4426.0,4427.5,4429.0,4430.5,4432.0,4433.5,4435.0,4436.5,4438.0,4439.5,
  4441.0,4442.5,4444.0,4445.5,4447.0,4448.5,4450.0,4451.5,4453.0,4454.5,
  4456.0,4457.5,4459.0,4460.5,4462.0,4463.5,4465.0,4466.5,4468.0,4469.5,
  4471.0,4472.5,4474.0,4475.5,4477.0,4478.5,4480.0,4481.5,4483.0,4484.5,
  4486.0,4487.5,4489.0,4490.5,4492.0,4493.5,4495.0,4496.5,4498.0,4499.5,
  4501.0,4502.5,4504.0,4505.5,4507.0,4508.5,4510.0,4511.5,4513.0,4514.5,
  4516.0,4517.5,4519.0,4520.5,4522.0,4523.5,4525.0,4526.5,4528.0,4529.5,
  4531.0,4532.5,4534.0,4535.5,4537.0,4538.5,4540.0,4541.5,4543.0,4544.5,
  4546.0,4547.5,4549.0,4550.5,4552.0,4553.5,4555.0,4556.5,4558.0,4559.5,
  4561.0,4562.5,4564.0,4565.5,4567.0,4568.5,4570.0,4571.5,4573.0,4574.5,
  4576.0,4577.5,4579.0,4580.5,4582.0,4583.5,4585.0,4586.5,4588.0,4589.5,
  4591.0,4592.5,4594.0,4595.5,4597.0,4598.5,4600.0,4601.5,4603.0,4604.5,
  4606.0,4607.5,4609.0,4610.5,4612.0,4613.5,4615.0,4616.5,4618.0,4619.5,
  4621.0,4622.5,4624.0,4625.5,4627.0,4628.5,4630.0,4631.5,4633.0,4634.5,
  4636.0,4637.5,4639.0,4640.5,4642.0,4643.5,4645.0,4646.5,4648.0,4649.5,
  4651.0,4652.5,4654.0,4655.5,4657.0,4658.5,4660.0,4661.5,4663.0,4664.5,
  4666.0,4667.5,4669.0,4670.5,4672.0,4673.5,4675.0,4676.5,4678.0,4679.5,
  4681.0,4682.5,4684.0,4685.5,4687.0,4688.5,4690.0,4691.5,4693.0,4694.5,
  4696.0,4697.5,4699.0,4700.5,4702.0,4703.5,4705.0,4706.5,4708.0,4709.5,
  4711.0,4712.5,4714.0,4715.5,4717.0,4718.5,4720.0,4721.5,4723.0,4724.5,
  4726.0,4727.5,4729.0,4730.5,4732.0,4733.5,4735.0,4736.5,4738.0,4739.5,
  4741.0,4742.5,4744.0,4745.5,4747.0,4748.5,4750.0,4751.5,4753.0,4754.5,
  4756.0,4757.5,4759.0,4760.5,4762.0,4763.5,4765.0,4766.5,4768.0,4769.5,
  4771.0,4772.5,4774.0,4775.5,4777.0,4778.5,4780.0,4781.5,4783.0,4784.5,
  4786.0,4787.5,4789.0,4790.5,4792.0,4793.5,4795.0,4796.5,4798.0,4799.5,
  4801.0,4802.5,4804.0,4805.5,4807.0,4808.5,4810.0,4811.5,4813.0,4814.5,
  4816.0,4817.5,4819.0,4820.5,4822.0,4823.5,4825.0,4826.5,4828.0,4829.5,
  4831.0,4832.5,4834.0,4835.5,4837.0,4838.5,4840.0,4841.5,4843.0,4844.5,
  4846.0,4847.5,4849.0,4850.5,4852.0,4853.5,4855.0,4856.5,4858.0,4859.5,
  4861.0,4862.5,4864.0,4865.5,4867.0,4868.5,4870.0,4871.5,4873.0,4874.5,
  4876.0,4877.5,4879.0,4880.5,4882.0,4883.5,4885.0,4886.5,4888.0,4889.5,
  4891.0,4892.5,4894.0,4895.5,4897.0,4898.5,4900.0,4901.5,4903.0,4904.5,
  4906.0,4907.5,4909.0,4910.5,4912.0,4913.5,4915.0,4916.5,4918.0,4919.5,
  4921.0,4922.5,4924.0,4925.5,4927.0,4928.5,4930.0,4931.5,4933.0,4934.5,
  4936.0,4937.5,4939.0,4940.5,4942.0,4943.5,4945.0,4946.5,4948.0,4949.5,
  4951.0,4952.5,4954.0,4955.5,4957.0,4958.5,4960.0,4961.5,4963.0,4964.5,
  4966.0,4967.5,4969.0,4970.5,4972.0,4973.5,4975.0,4976.5,4978.0,4979.5,
  4981.0,4982.5,4984.0,4985.5,4987.0,4988.5,4990.0,4991.5,4993.0,4994.5,
  4996.0,4997.5,4999.0,5000.5,5002.0,5003.5,5005.0,5006.5,5008.0,5009.5,
  5011.0,5012.5,5014.0,5015.5,5017.0,5018.5,5020.0,5021.5,5023.0,5024.5,
  5026.0,5027.5,5029.0,5030.5,5032.0,5033.5,5035.0,5036.5,5038.0,5039.5,
  5041.0,5042.5,5044.0,5045.5,5047.0,5048.5,5050.0,5051.5,5053.0,5054.5,
  5056.0,5057.5,5059.0,5060.5,5062.0,5063.5,5065.0,5066.5,5068.0,5069.5,
  5071.0,5072.5,5074.0,5075.5,5077.0,5078.5,5080.0,5081.5,5083.0,5084.5,
  5086.0,5087.5,5089.0,5090.5,5092.0,5093.5,5095.0,5096.5,5098.0,5099.5,
  5101.0,5102.5,5104.0,5105.5,5107.0,5108.5,5110.0,5111.5,5113.0,5114.5,
  5116.0,5117.5,5119.0,5120.5,5122.0,5123.5,5125.0,5126.5,5128.0,5129.5,
  5131.0,5132.5,5134.0,5135.5,5137.0,5138.5,5140.0,5141.5,5143.0,5144.5,
  5146.0,5147.5,5149.0,5150.5,5152.0,5153.5,5155.0,5156.5,5158.0,5159.5,
  5161.0,5162.5,5164.0,5165.5,5167.0,5168.5,5170.0,5171.5,5173.0,5174.5,
  5176.0,5177.5,5179.0,5180.5,5182.0,5183.5,5185.0,5186.5,5188.0,5189.5,
  5191.0,5192.5,5194.0,5195.5,5197.0,5198.5,5200.0,5201.5,5203.0,5204.5,
  5206.0,5207.5,5209.0,5210.5,5212.0,5213.5,5215.0,5216.5,5218.0,5219.5,
  5221.0,5222.5,5224.0,5225.5,5227.0,5228.5,5230.0,5231.5,5233.0,5234.5,
  5236.0,5237.5,5239.0,5240.5,5242.0,5243.5,5245.0,5246.5,5248.0,5249.5,
  5251.0,5252.5,5254.0,5255.5,5257.0,5258.5,5260.0,5261.5,5263.0,5264.5,
  5266.0,5267.5,5269.0,5270.5,5272.0,5273.5,5275.0,5276.5,5278.0,5279.5,
  5281.0,5282.5,5284.0,5285.5,5287.0,5288.5,5290.0,5291.5,5293.0,5294.5,
  5296.0,5297.5,5299.0,5300.5,5302.0,5303.5,5305.0,5306.5,5308.0,5309.5,
  5311.0,5312.5,5314.0,5315.5,5317.0,5318.5,5320.0,5321.5,5323.0,5324.5,
  5326.0,5327.5,5329.0,5330.5,5332.0,5333.5,5335.0,5336.5,5338.0,5339.5,
  5341.0,5342.5,5344.0,5345.5,5347.0,5348.5,5350.0,5351.5,5353.0,5354.5,
  5356.0,5357.5,5359.0,5360.5,5362.0,5363.5,5365.0,5366.5,5368.0,5369.5,
  5371.0,5372.5,5374.0,5375.5,5377.0,5378.5,5380.0,5381.5,5383.0,5384.5,
  5386.0,5387.5,5389.0,5390.5,5392.0,5393.5,5395.0,5396.5,5398.0,5399.5,
  5401.0,5402.5,5404.0,5405.5,5407.0,5408.5,5410.0,5411.5,5413.0,5414.5,
  5416.0,5417.5,5419.0,5420.5,5422.0,5423.5,5425.0,5426.5,5428.0,5429.5,
  5431.0,5432.5,5434.0,5435.5,5437.0,5438.5,5440.0,5441.5,5443.0,5444.5,
  5446.0,5447.5,5449.0,5450.5,5452.0,5453.5,5455.0,5456.5,5458.0,5459.5,
  5461.0,5462.5,5464.0,5465.5,5467.0,5468.5,5470.0,5471.5,5473.0,5474.5,
  5476.0,5477.5,5479.0,5480.5,5482.0,5483.5,5485.0,5486.5,5488.0,5489.5,
  5491.0,5492.5,5494.0,5495.5,5497.0,5498.5,5500.0,5501.5,5503.0,5504.5,
  5506.0,5507.5,5509.0,5510.5,5512.0,5513.5,5515.0,5516.5,5518.0,5519.5,
  5521.0,5522.5,5524.0,5525.5,5527.0,5528.5,5530.0,5531.5,5533.0,5534.5,
  5536.0,5537.5,5539.0,5540.5,5542.0,5543.5,5545.0,5546.5,5548.0,5549.5,
  5551.0,5552.5,5554.0,5555.5,5557.0,5558.5,5560.0,5561.5,5563.0,5564.5,
  5566.0,5567.5,5569.0,5570.5,5572.0,5573.5,5575.0,5576.5,5578.0,5579.5,
  5581.0,5582.5,5584.0,5585.5,5587.0,5588.5,5590.0,5591.5,5593.0,5594.5,
  5596.0,5597.5,5599.0,5600.5,5602.0,5603.5,5605.0,5606.5,5608.0,5609.5,
  5611.0,5612.5,5614.0,5615.5,5617.0,5618.5,5620.0,5621.5,5623.0,5624.5,
  5626.0,5627.5,5629.0,5630.5,5632.0,5633.5,5635.0,5636.5,5638.0,5639.5,
  5641.0,5642.5,5644.0,5645.5,5647.0,5648.5
];

var residFlux2 = [
  -0.09,-0.04,-0.075,0.03,-0.05,-0.095,0.015,-0.065,0.02,-0.03,
  0.025,-0.01,0.04,0.005,0.055,-0.02,0.03,0.012,-0.035,0.045,
  0.0,0.02,-0.028,0.035,0.015,-0.06,0.008,0.028,-0.015,0.04,
  0.01,-0.022,0.032,0.018,-0.008,0.045,0.0,0.025,-0.03,0.012,
  -0.025,0.015,-0.04,-0.01,-0.032,0.005,-0.045,-0.018,0.02,-0.028,
  0.008,-0.015,0.03,-0.035,0.018,0.0,-0.022,0.04,-0.008,0.012,
  -0.03,0.025,0.005,-0.018,0.035,-0.012,0.02,-0.04,0.01,0.028,
  -0.005,0.018,-0.028,0.038,0.0,-0.015,0.025,0.008,-0.035,0.015,
  0.03,-0.01,0.02,0.045,-0.02,0.01,0.035,-0.005,0.015,-0.03,
  0.025,0.0,-0.015,0.04,0.012,-0.025,0.03,0.005,0.02,-0.01,
  0.018,0.035,-0.008,0.025,0.01,0.045,0.0,0.03,0.015,0.022,
  0.04,0.008,0.028,0.015,-0.005,0.035,0.02,0.012,0.048,0.025,
  0.01,0.03,-0.012,0.022,0.005,0.038,-0.02,0.015,0.0,0.028,
  -0.025,0.012,0.03,-0.015,0.0,0.02,-0.035,0.008,0.025,-0.01,
  0.015,-0.028,0.005,0.022,-0.018,0.01,-0.04,0.0,-0.012,0.018,
  -0.03,-0.008,0.015,-0.045,-0.02,0.005,-0.035,-0.01,0.022,-0.025,
  -0.015,0.008,-0.04,-0.022,0.012,-0.032,-0.005,-0.05,0.018,-0.018,
  -0.028,0.0,-0.045,0.015,-0.01,0.025,-0.035,-0.005,0.02,-0.02,
  0.01,-0.03,0.03,-0.012,0.005,-0.038,0.018,-0.008,0.035,-0.022,
  0.0,0.022,-0.028,0.012,-0.015,0.03,-0.005,-0.035,0.015,0.008,
  -0.02,0.025,-0.01,0.04,-0.03,0.005,0.018,-0.015,0.032,0.0,
  0.012,-0.025,0.038,0.005,-0.01,0.028,0.015,-0.032,0.02,0.045,
  -0.005,0.022,-0.018,0.035,0.008,-0.028,0.03,0.0,0.015,-0.012,
  0.04,0.01,-0.02,0.025,0.05,-0.008,0.018,-0.03,0.032,0.005,
  0.02,-0.015,0.035,0.012,-0.005,0.028,-0.022,0.042,0.0,0.018,
  0.03,0.008,0.045,0.02,0.06,0.015,0.035,0.0,0.05,0.025,
  0.04,0.012,0.055,0.03,0.018,0.062,0.022,0.038,0.005,0.045,
  0.028,0.05,0.01,0.035,0.02,0.042,-0.002,0.03,0.015,0.048,
  0.012,-0.015,0.028,0.005,0.035,-0.01,0.02,0.042,-0.005,0.018,
  -0.022,0.03,0.01,-0.008,0.025,0.04,-0.018,0.015,0.005,0.032,
  -0.012,0.022,0.0,0.038,-0.025,0.012,0.028,-0.005,0.018,0.008,
  0.03,-0.02,0.015,0.0,-0.03,0.022,0.008,-0.012,0.035,-0.018,
  0.005,-0.04,0.02,-0.015,0.028,-0.025,0.0,-0.048,0.012,-0.008,
  -0.03,0.018,-0.012,0.03,-0.038,0.005,-0.02,0.025,-0.005,-0.032,
  0.01,-0.025,0.022,-0.042,0.0,0.015,-0.018,0.035,-0.028,0.008,
  -0.01,0.025,-0.035,0.012,-0.02,0.0,0.03,-0.045,0.018,-0.015,
  0.005,-0.03,0.02,-0.008,0.028,-0.022,0.01,-0.038,0.015,0.0,
  -0.018,0.022,0.008,-0.012,0.03,0.0,-0.025,0.018,0.012,-0.005,
  0.025,-0.015,0.01,0.035,-0.008,0.02,0.005,-0.022,0.03,0.012,
  -0.01,0.018,0.04,-0.02,0.008,0.025,-0.005,0.015,-0.028,0.032,
  0.0,0.022,-0.012,0.028,0.01,-0.018,0.035,0.005,-0.008,0.02,
  0.015,-0.025,0.03,0.0,0.018,-0.01,0.042,0.008,-0.015,0.025,
  -0.005,0.012,0.028,-0.02,0.02,0.005,-0.03,0.018,0.035,-0.008,
  0.01,0.025,-0.012,0.0,0.03,-0.022,0.015,0.008,-0.005,0.022,
  -0.015,0.008,-0.025,0.018,0.0,-0.01,0.025,-0.03,0.012,-0.005,
  0.02,-0.02,0.005,-0.035,0.015,-0.008,0.028,-0.015,0.0,0.01,
  -0.028,0.018,-0.005,0.022,-0.018,0.008,-0.032,0.012,0.0,-0.012,
  0.025,-0.022,0.01,-0.008,0.015,-0.04,0.005,0.02,-0.015,0.0,
  -0.01,0.018,-0.025,0.008,0.03,-0.018,0.0,-0.03,0.012,-0.005,
  0.02,-0.012,0.028,-0.025,0.005,0.015,-0.035,0.01,-0.008,0.025,
  -0.018,0.0,0.032,-0.01,0.018,-0.028,0.008,0.022,-0.015,0.012,
  -0.03,0.005,0.025,-0.02,0.0,0.035,-0.012,0.015,-0.022,0.008,
  0.028,-0.008,0.012,-0.035,0.02,0.0,-0.015,0.03,-0.025,0.01,
  0.005,-0.018,0.022,0.012,-0.03,0.018,-0.005,0.038,-0.012,0.0,
  0.015,-0.022,0.008,0.028,-0.01,0.02,-0.032,0.005,0.012,-0.018,
  0.025,0.0,-0.025,0.018,0.008,-0.012,0.032,-0.02,0.01,-0.005,
  0.02,-0.015,0.005,-0.028,0.022,0.012,-0.008,0.03,-0.018,0.0,
  0.01,0.025,-0.02,0.005,-0.01,0.018,-0.035,0.015,0.028,-0.012,
  0.0,0.02,-0.025,0.012,-0.005,0.03,-0.015,0.008,0.022,-0.028,
  0.015,-0.01,0.025,0.0,-0.02,0.035,0.008,-0.012,0.018,0.005,
  0.028,-0.015,0.04,0.012,0.055,0.02,-0.008,0.03,0.0,-0.02,
  0.01,-0.025,0.015,-0.008,0.02,-0.03,0.0,0.012,-0.018,0.025,
  -0.012,0.005,-0.028,0.018,-0.005,0.01,-0.035,0.022,-0.015,0.0,
  0.015,-0.02,0.008,-0.03,0.0,0.02,-0.012,-0.038,0.012,-0.005,
  -0.025,0.01,0.018,-0.015,0.005,-0.032,0.022,-0.008,0.0,0.012,
  -0.018,0.025,-0.01,0.005,-0.028,0.015,0.0,-0.02,0.01,-0.012,
  0.018,-0.005,0.012,-0.015,0.02,0.0,-0.018,0.01,0.022,-0.01,
  0.005,-0.02,0.015,0.008,-0.012,0.025,-0.005,0.012,-0.022,0.0,
  0.018,-0.008,0.01,-0.015,0.022,0.005,-0.02,0.012,0.0,-0.01,
  0.015,0.025,-0.012,0.008,-0.018,0.0,0.02,-0.025,0.01,0.005,
  -0.008,0.018,0.0,-0.015,0.012,0.022,-0.01,0.005,-0.02,0.015,
  0.008,-0.012,0.02,-0.005,0.015,-0.022,0.0,0.018,-0.01,0.01,
  -0.018,0.005,0.025,-0.008,0.012,0.0,-0.015,0.02,0.008,-0.02,
  0.01,0.018,-0.012,0.0,0.022,-0.018,0.005,0.012,-0.008,0.015,
  -0.005,0.02,-0.02,0.01,0.005,-0.012,0.018,-0.025,0.008,0.0,
  0.015,-0.01,0.022,0.0,-0.018,0.012,0.008,-0.005,0.02,-0.015,
  0.005,0.018,-0.012,0.025,-0.008,0.0,0.012,-0.02,0.015,0.008,
  -0.01,0.02,0.005,-0.015,0.01,0.022,-0.005,0.0,-0.018,0.012,
  0.018,-0.008,0.008,-0.022,0.015,0.005,-0.01,0.025,0.0,-0.012,
  0.01,-0.018,0.02,0.008,-0.005,0.015,-0.02,0.012,0.0,0.018,
  -0.012,0.005,0.022,-0.01,0.012,-0.018,0.008,0.0,0.02,-0.005,
  0.015,-0.015,0.01,0.025,-0.008,0.005,-0.02,0.018,0.012,0.0,
  -0.01,0.02,-0.005,0.012,-0.022,0.008,0.018,-0.012,0.005,0.015,
  0.0,-0.015,0.022,0.01,-0.008,0.018,0.005,-0.012,0.025,0.008,
  -0.005,0.015,0.028,-0.01,0.012,0.0,0.02,-0.015,0.008,0.022,
  0.012,-0.008,0.018,0.005,-0.018,0.025,0.01,0.0,0.015,-0.012,
  0.02,0.008,-0.005,0.022,0.012,-0.015,0.018,0.0,0.028,0.005,
  -0.01,0.015,0.02,-0.008,0.01,0.025,-0.018,0.012,0.005,0.018,
  0.0,-0.012,0.022,0.01,-0.005,0.015,0.028,-0.01,0.008,0.02,
  0.012,-0.015,0.005,0.025,0.0,0.018,-0.008,0.01,0.022,-0.012,
  0.015,0.005,-0.01,0.02,0.012,-0.018,0.025,0.008,0.0,0.015,
  -0.005,0.022,0.01,-0.012,0.018,0.005,0.028,-0.015,0.012,0.0,
  0.02,-0.008,0.015,0.025,-0.01,0.008,0.018,0.0,-0.015,0.022,
  0.01,0.005,0.02,-0.012,0.028,0.012,-0.005,0.018,0.008,-0.01,
  0.015,0.025,0.0,0.012,-0.018,0.02,0.005,0.03,-0.008,0.015,
  0.01,0.022,0.04,0.015,0.055,0.03,0.062,0.02,0.045,0.012,
  0.035,0.005,-0.012,0.018,0.0,-0.02,0.012,0.025,-0.008,0.01,
  -0.015,0.02,-0.045,0.005,0.015,-0.025,0.01,0.022,-0.01,0.0,
  0.018,-0.012,0.008,0.025,-0.018,0.005,0.015,-0.005,0.02,-0.02,
  0.01,0.0,0.022,-0.012,0.012,-0.022,0.018,0.005,-0.008,0.015,
  0.0,-0.015,0.012,0.02,-0.01,0.008
];

var xTickValues = [4200, 4400, 4600, 4800, 5000, 5200, 5400, 5600];
var yTickValues = [0.0, 0.5, 1.0];
var seriesLabels = ["P1: S/N= 66", "PEGASE.HR", "Residuals"];
var xTitle = "Wavelength, \u00c5";

var width = 1860, height = 645;
var plot = {left: 199.4, right: 1843, top: 10, bottom: 525.5};

var svg = d3.select("#chart")
  .append("svg")
    .attr("width", width)
    .attr("height", height)
    .style("background", "#fff");

var xScale = d3.scaleLinear()
  .domain([4100, 5650])
  .range([plot.left, plot.right]);

var yScale = d3.scaleLinear()
  .domain([-0.1, 1.1])
  .range([plot.bottom, plot.top]);

// stretch a text element to a given width (the original font is very wide)
function fitText(sel, len) {
  sel.attr("textLength", len).attr("lengthAdjust", "spacingAndGlyphs");
}

svg.append("clipPath").attr("id", "plot-clip")
  .append("rect")
    .attr("x", plot.left).attr("y", plot.top)
    .attr("width", plot.right - plot.left)
    .attr("height", plot.bottom - plot.top);

var spectra = svg.append("g").attr("clip-path", "url(#plot-clip)");

var lineGen = d3.line()
  .x(function(d, i) { return xScale(wavelength[i]); })
  .y(function(d) { return yScale(d); });

[fluxP1, fluxPegase].forEach(function(series) {
  spectra.append("path")
    .datum(series.slice(0, wavelength.length))
    .attr("d", lineGen)
    .attr("fill", "none")
    .attr("stroke", "#000")
    .attr("stroke-width", 3.1)
    .attr("stroke-linejoin", "round");
});

// residual dots (both sets)
var dotSize = 2.7;
var residPoints = [];
for (var i = 0; i < Math.min(wavelength.length, residuals.length); i++) {
  residPoints.push({x: wavelength[i], y: residuals[i]});
}
for (var j = 0; j < Math.min(residWave2.length, residFlux2.length); j++) {
  residPoints.push({x: residWave2[j], y: residFlux2[j]});
}

spectra.selectAll("rect.resid")
  .data(residPoints)
  .enter().append("rect")
    .attr("class", "resid")
    .attr("x", function(d) { return xScale(d.x) - dotSize / 2; })
    .attr("y", function(d) { return yScale(d.y) - dotSize / 2; })
    .attr("width", dotSize)
    .attr("height", dotSize)
    .attr("fill", "#000");

// axes: major + minor ticks on all four sides, pointing inward
function styleAxis(g) {
  g.select(".domain").remove();
  g.selectAll(".tick line").attr("stroke", "#000").attr("stroke-width", 2);
}

var xMinor = xScale.ticks(31).filter(function(d) { return xTickValues.indexOf(d) < 0; });
var yMinor = yScale.ticks(12).filter(function(d) { return Math.abs(d * 2 - Math.round(d * 2)) > 1e-6; });

svg.append("g")
  .attr("transform", "translate(0," + plot.bottom + ")")
  .call(d3.axisBottom(xScale).tickValues(xMinor).tickSize(-5.5).tickFormat(""))
  .call(styleAxis);

var xAxis = svg.append("g")
  .attr("class", "x axis")
  .attr("transform", "translate(0," + plot.bottom + ")")
  .call(d3.axisBottom(xScale).tickValues(xTickValues).tickSize(-11).tickFormat(d3.format("d")))
  .call(styleAxis);

xAxis.selectAll(".tick text")
  .attr("y", 61)
  .attr("dy", 0)
  .style("font-size", "39px")
  .attr("fill", "#000")
  .call(fitText, 133);

svg.append("g")
  .attr("transform", "translate(0," + plot.top + ")")
  .call(d3.axisTop(xScale).tickValues(xMinor).tickSize(-5.5).tickFormat(""))
  .call(styleAxis);

svg.append("g")
  .attr("transform", "translate(0," + plot.top + ")")
  .call(d3.axisTop(xScale).tickValues(xTickValues).tickSize(-11).tickFormat(""))
  .call(styleAxis);

svg.append("g")
  .attr("transform", "translate(" + plot.left + ",0)")
  .call(d3.axisLeft(yScale).tickValues(yMinor).tickSize(-17).tickFormat(""))
  .call(styleAxis);

var yAxis = svg.append("g")
  .attr("class", "y axis")
  .attr("transform", "translate(" + plot.left + ",0)")
  .call(d3.axisLeft(yScale).tickValues(yTickValues).tickSize(-33).tickFormat(d3.format(".1f")))
  .call(styleAxis);

yAxis.selectAll(".tick text")
  .attr("x", -18)
  .attr("dy", "0.36em")
  .style("font-size", "39px")
  .attr("fill", "#000")
  .call(fitText, 78);

svg.append("g")
  .attr("transform", "translate(" + plot.right + ",0)")
  .call(d3.axisRight(yScale).tickValues(yMinor).tickSize(-17).tickFormat(""))
  .call(styleAxis);

svg.append("g")
  .attr("transform", "translate(" + plot.right + ",0)")
  .call(d3.axisRight(yScale).tickValues(yTickValues).tickSize(-33).tickFormat(""))
  .call(styleAxis);

// frame
svg.append("rect")
  .attr("x", plot.left).attr("y", plot.top)
  .attr("width", plot.right - plot.left)
  .attr("height", plot.bottom - plot.top)
  .attr("fill", "none")
  .attr("stroke", "#000")
  .attr("stroke-width", 2.6);

// axis titles
svg.append("text")
  .attr("x", (plot.left + plot.right) / 2)
  .attr("y", 635)
  .attr("text-anchor", "middle")
  .style("font-size", "38px")
  .text(xTitle)
  .call(fitText, 340);

svg.append("text")
  .attr("transform", "translate(53,293) rotate(-90)")
  .style("font-size", "48px")
  .text("F")
  .call(fitText, 21);

svg.append("text")
  .attr("transform", "translate(68,275) rotate(-90)")
  .style("font-size", "26px")
  .text("\u03bb")
  .call(fitText, 13);

// labels inside the plot
var labelX = xScale(5369);
var labelY = [130, 326, 441];
var labelLen = [271, 216, 186];
seriesLabels.forEach(function(txt, i) {
  svg.append("text")
    .attr("x", labelX)
    .attr("y", labelY[i])
    .style("font-size", "30px")
    .text(txt)
    .call(fitText, labelLen[i]);
});

// the single dot after "Residuals" (legend symbol)
svg.append("rect")
  .attr("x", xScale(5583) - dotSize / 2)
  .attr("y", yScale(0.117) - dotSize / 2)
  .attr("width", dotSize)
  .attr("height", dotSize)
  .attr("fill", "#000");
</script>
</body>
</html>
